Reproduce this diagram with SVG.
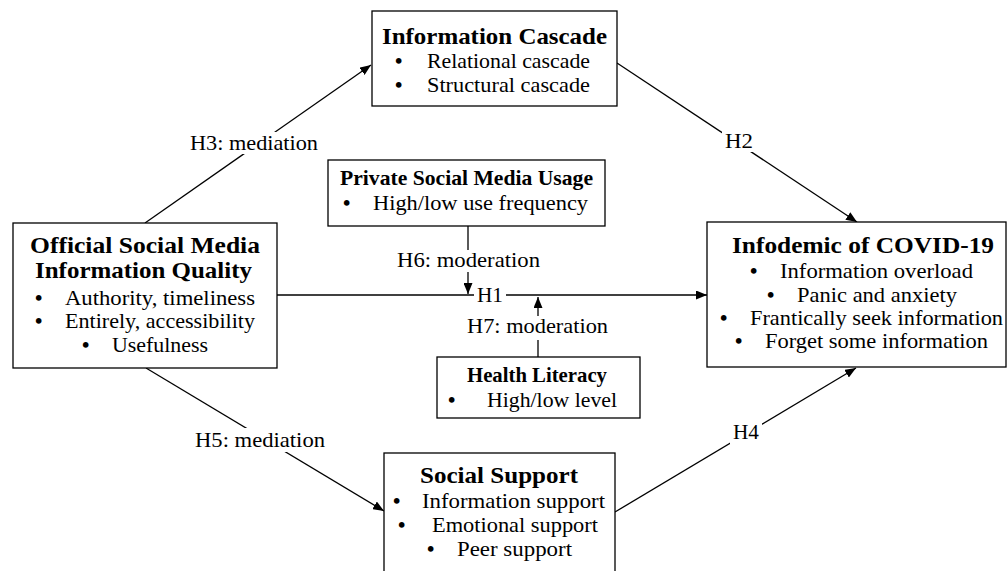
<svg xmlns="http://www.w3.org/2000/svg" width="1008" height="571" viewBox="0 0 1008 571">
<style>
text{font-family:"Liberation Serif","Times New Roman",serif;fill:#000}
.t{font-size:23px;font-weight:bold}
.s{font-size:21px;font-weight:bold}
.b{font-size:21px}
.d{font-size:21px;font-weight:bold}
.l{font-size:21px}
.box{fill:#fff;stroke:#000;stroke-width:1.3}
.c{fill:none;stroke:#000;stroke-width:1.3}
.bg{fill:#fff;stroke:none}
</style>
<defs>
<marker id="ah" markerUnits="userSpaceOnUse" markerWidth="11" markerHeight="9" refX="11" refY="4.5" orient="auto">
<path d="M0,0 L11,4.5 L0,9 z" fill="#000"/>
</marker>
</defs>
<rect width="1008" height="571" fill="#fff"/>
<g id="connectors">
<path class="c" d="M145,223 L371,65" marker-end="url(#ah)"/>
<path class="c" d="M617,63 L857,222" marker-end="url(#ah)"/>
<path class="c" d="M146,368 L384,511" marker-end="url(#ah)"/>
<path class="c" d="M615,512 L856,368" marker-end="url(#ah)"/>
<path class="c" d="M277,295 L707,295" marker-end="url(#ah)"/>
<path class="c" d="M468,226 V250"/>
<path class="c" d="M468,272 V294" marker-end="url(#ah)"/>
<path class="c" d="M538,357 V340"/>
<path class="c" d="M538,316 V297" marker-end="url(#ah)"/>
<rect class="bg" x="188" y="132" width="132" height="22"/>
<text class="l" x="190" y="150" textLength="128" lengthAdjust="spacingAndGlyphs">H3: mediation</text>
<rect class="bg" x="722" y="130" width="34" height="22"/>
<text class="l" x="725" y="148" textLength="28" lengthAdjust="spacingAndGlyphs">H2</text>
<text class="l" x="397" y="267" textLength="143" lengthAdjust="spacingAndGlyphs">H6: moderation</text>
<rect class="bg" x="474" y="286" width="32" height="18"/>
<text class="l" x="477" y="302" textLength="26" lengthAdjust="spacingAndGlyphs">H1</text>
<text class="l" x="467" y="333" textLength="141" lengthAdjust="spacingAndGlyphs">H7: moderation</text>
<rect class="bg" x="193" y="428" width="134" height="24"/>
<text class="l" x="195" y="447" textLength="130" lengthAdjust="spacingAndGlyphs">H5: mediation</text>
<rect class="bg" x="730" y="422" width="32" height="22"/>
<text class="l" x="733" y="439" textLength="26" lengthAdjust="spacingAndGlyphs">H4</text>
</g>
<g id="cascade">
<rect class="box" x="372" y="11" width="245" height="95"/>
<text class="t" x="382" y="44" textLength="225" lengthAdjust="spacingAndGlyphs">Information Cascade</text>
<text class="d" x="395" y="68">•</text>
<text class="b" x="427" y="68" textLength="163" lengthAdjust="spacingAndGlyphs">Relational cascade</text>
<text class="d" x="395" y="92">•</text>
<text class="b" x="427" y="92" textLength="163" lengthAdjust="spacingAndGlyphs">Structural cascade</text>
</g>
<g id="official">
<rect class="box" x="13" y="223" width="264" height="145"/>
<text class="t" x="30" y="253" textLength="230" lengthAdjust="spacingAndGlyphs">Official Social Media</text>
<text class="t" x="35" y="278" textLength="217" lengthAdjust="spacingAndGlyphs">Information Quality</text>
<text class="d" x="35" y="305">•</text>
<text class="b" x="65" y="305" textLength="190" lengthAdjust="spacingAndGlyphs">Authority, timeliness</text>
<text class="d" x="35" y="328">•</text>
<text class="b" x="65" y="328" textLength="190" lengthAdjust="spacingAndGlyphs">Entirely, accessibility</text>
<text class="d" x="82" y="352">•</text>
<text class="b" x="112" y="352" textLength="96" lengthAdjust="spacingAndGlyphs">Usefulness</text>
</g>
<g id="infodemic">
<rect class="box" x="707" y="222" width="299" height="145"/>
<text class="t" x="732" y="253" textLength="262" lengthAdjust="spacingAndGlyphs">Infodemic of COVID-19</text>
<text class="d" x="750" y="278">•</text>
<text class="b" x="780" y="278" textLength="193" lengthAdjust="spacingAndGlyphs">Information overload</text>
<text class="d" x="767" y="302">•</text>
<text class="b" x="797" y="302" textLength="160" lengthAdjust="spacingAndGlyphs">Panic and anxiety</text>
<text class="d" x="720" y="325">•</text>
<text class="b" x="750" y="325" textLength="253" lengthAdjust="spacingAndGlyphs">Frantically seek information</text>
<text class="d" x="735" y="348">•</text>
<text class="b" x="765" y="348" textLength="223" lengthAdjust="spacingAndGlyphs">Forget some information</text>
</g>
<g id="private">
<rect class="box" x="328" y="160" width="277" height="66"/>
<text class="s" x="340" y="185" textLength="253" lengthAdjust="spacingAndGlyphs">Private Social Media Usage</text>
<text class="d" x="343" y="210">•</text>
<text class="b" x="373" y="210" textLength="215" lengthAdjust="spacingAndGlyphs">High/low use frequency</text>
</g>
<g id="health">
<rect class="box" x="437" y="357" width="203" height="61"/>
<text class="s" x="467" y="382" textLength="140" lengthAdjust="spacingAndGlyphs">Health Literacy</text>
<text class="d" x="448" y="407">•</text>
<text class="b" x="487" y="407" textLength="130" lengthAdjust="spacingAndGlyphs">High/low level</text>
</g>
<g id="support">
<rect class="box" x="384" y="453" width="231" height="140"/>
<text class="t" x="420" y="483" textLength="158" lengthAdjust="spacingAndGlyphs">Social Support</text>
<text class="d" x="393" y="508">•</text>
<text class="b" x="422" y="508" textLength="183" lengthAdjust="spacingAndGlyphs">Information support</text>
<text class="d" x="398" y="532">•</text>
<text class="b" x="432" y="532" textLength="166" lengthAdjust="spacingAndGlyphs">Emotional support</text>
<text class="d" x="427" y="556">•</text>
<text class="b" x="457" y="556" textLength="115" lengthAdjust="spacingAndGlyphs">Peer support</text>
</g>
</svg>
